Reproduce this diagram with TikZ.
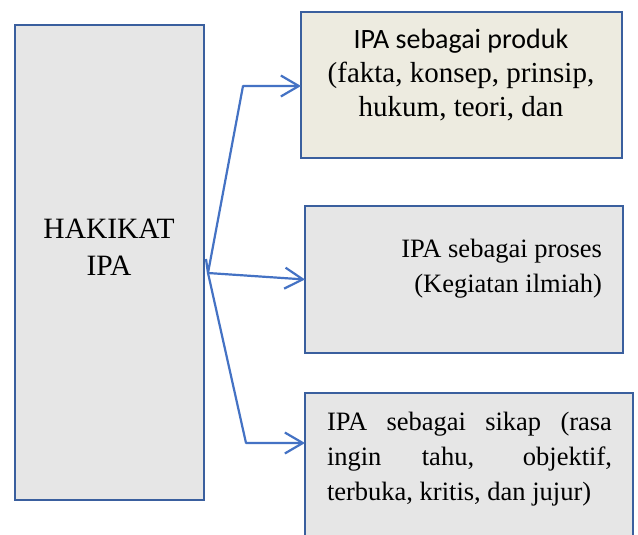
\documentclass[tikz,border=0pt]{standalone}
\usepackage{fontspec}
\setmainfont{Liberation Serif}
\newfontfamily\calfont{Carlito}
\usetikzlibrary{arrows.meta}
\definecolor{boxline}{HTML}{3A5F9E}
\definecolor{arrowblue}{HTML}{4472C4}
\definecolor{greyfill}{HTML}{E6E6E6}
\definecolor{beigefill}{HTML}{EDEBE0}
\begin{document}
\begin{tikzpicture}[x=1pt,y=-1pt,
  box/.style={draw=boxline, line width=2.6pt, inner sep=0pt, outer sep=0pt, rectangle},
  txt/.style={anchor=base, inner sep=0pt, outer sep=0pt},
  bigtxt/.style={txt, font=\fontsize{29.5}{34}\selectfont},
  midtxt/.style={txt, font=\fontsize{29}{34}\selectfont},
  smalltxt/.style={txt, font=\fontsize{26.5}{34}\selectfont},
  conn/.style={draw=arrowblue, line width=2.2pt, line join=round},
  tip/.style={-{Straight Barb[length=18pt,width=21pt]}}]
\useasboundingbox (0,0) rectangle (638,535);
\clip (0,0) rectangle (638,535);
\fill[white] (0,0) rectangle (638,535);
% boxes
\node[box, fill=greyfill, minimum width=189pt, minimum height=475pt] (hak) at (109.5,262.5) {};
\node[box, fill=beigefill, minimum width=321pt, minimum height=146pt] (prod) at (461.5,85) {};
\node[box, fill=greyfill, minimum width=318pt, minimum height=147pt] (proc) at (464,279.5) {};
\node[box, fill=greyfill, minimum width=328pt, minimum height=170pt] (sik) at (469,478) {};
% texts
\node[bigtxt] (hak1) at (109,238) {HAKIKAT};
\node[bigtxt] (hak2) at (109,275) {IPA};
\node[midtxt, font=\calfont\fontsize{28}{34}\selectfont] (prod1) at (461,49) {IPA sebagai produk};
\node[midtxt] (prod2) at (461,83) {(fakta, konsep, prinsip,};
\node[midtxt] (prod3) at (461,117) {hukum, teori, dan};
\node[smalltxt, anchor=base east] (proc1) at (602,257) {IPA sebagai proses};
\node[smalltxt, anchor=base east] (proc2) at (602,292) {(Kegiatan ilmiah)};
\node[smalltxt, anchor=base west] (sik1) at (327,430) {\makebox[285pt][s]{IPA sebagai sikap (rasa}};
\node[smalltxt, anchor=base west] (sik2) at (327,465) {\makebox[285pt][s]{ingin tahu, objektif,}};
\node[smalltxt, anchor=base west] (sik3) at (327,500) {terbuka, kritis, dan jujur)};
% connectors
\coordinate (j) at (208,273);
\coordinate (tick) at (206,259);
\coordinate (tb) at (243,86);
\coordinate (bb) at (246,443);
\draw[conn,tip] (tick) -- (j) -- (tb) -- (tb -| prod.west);
\draw[conn,tip] (j) -- (proc.west);
\draw[conn,tip] (j) -- (bb) -- (bb -| sik.west);
\end{tikzpicture}
\end{document}
